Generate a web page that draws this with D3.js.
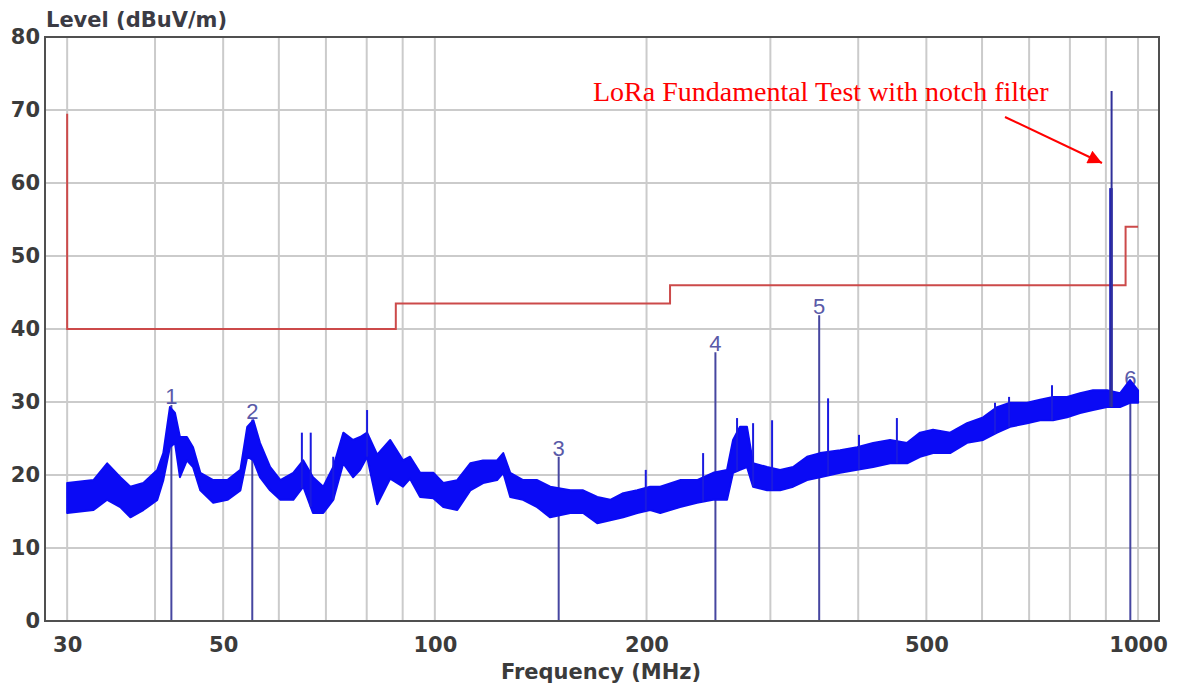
<!DOCTYPE html>
<html>
<head>
<meta charset="utf-8">
<script src="https://cdn.jsdelivr.net/npm/d3@7"></script>
<style>
    body { margin: 0; background: #fff; }
    svg { display: block; }
</style>
</head>
<body>
<div id="chart"></div>
<script>
// scan frequencies (MHz) with the upper / lower edge of the noisy trace (dBuV/m)
var traceFreq = [30, 32.7, 34.2, 35.7, 36.9, 38.5, 40.3, 41.1, 42.0, 42.7, 43.4, 44.4, 45.3, 46.4, 48.4, 50.7,
    52.9, 54.1, 55.2, 56.4, 58.3, 60.3, 62.9, 65.0, 67.1, 69.4, 71.7, 74.1, 76.5, 78.3, 80.1, 82.8, 86.4,
    90.1, 92.2, 95.3, 99.5, 102.8, 107.6, 112.3, 117.1, 122.6, 125.1, 128.0, 133.5, 139.8, 145.9, 155.8,
    162.5, 170.2, 177.6, 185.3, 194.0, 202.4, 209.2, 223.2, 236.0, 248.7, 260.3, 265.5, 271.6, 277.9,
    283.5, 296.8, 309.7, 323.2, 338.3, 353.0, 377.0, 398.6, 420.0, 444.0, 469.4, 489.8, 511.1, 540.4,
    571.3, 602.1, 630.3, 657.7, 695.4, 725.6, 757.0, 792.5, 827.0, 862.9, 903.4, 942.6, 974.0, 1000];
var traceHigh = [18.9, 19.3, 21.6, 19.7, 18.4, 18.9, 20.7, 23.0, 29.3, 28.5, 25.2, 25.2, 23.8, 20.3, 19.3, 19.3,
    20.7, 26.6, 27.5, 24.4, 21.1, 19.3, 20.3, 22.0, 19.7, 18.4, 21.1, 25.8, 24.8, 25.2, 25.8, 22.8, 24.8,
    22.0, 22.5, 20.3, 20.3, 18.9, 19.3, 21.6, 22.0, 22.0, 23.0, 20.3, 19.3, 19.3, 18.4, 17.9,
    17.9, 17.0, 16.6, 17.5, 17.9, 18.4, 18.4, 19.3, 19.3, 20.3, 20.7, 24.8, 26.6, 26.6,
    21.6, 21.1, 20.7, 21.1, 22.5, 23.0, 23.4, 23.8, 24.4, 24.8, 24.4, 25.8, 26.2, 25.8,
    27.1, 27.9, 29.3, 29.9, 29.9, 30.3, 30.7, 30.7, 31.2, 31.6, 31.6, 31.2, 33.0, 31.6];
var traceLow = [14.8, 15.2, 16.6, 15.6, 14.2, 15.2, 16.6, 19.3, 23.8, 24.4, 19.7, 22.0, 21.1, 17.9, 16.2, 16.6,
    17.9, 22.5, 22.0, 19.7, 17.9, 16.6, 16.6, 18.4, 14.8, 14.8, 16.6, 21.6, 19.7, 20.7, 22.5, 16.0, 19.5,
    18.4, 19.5, 17.0, 16.8, 15.6, 15.2, 17.9, 18.9, 19.3, 20.3, 17.0, 16.6, 15.6, 14.2, 14.8,
    14.8, 13.4, 13.8, 14.2, 14.8, 15.2, 14.8, 15.6, 16.2, 16.6, 16.6, 20.3, 20.7, 21.1,
    18.4, 17.9, 17.9, 18.4, 19.3, 19.7, 20.3, 20.7, 21.1, 21.6, 21.6, 22.5, 23.0, 23.0,
    24.4, 24.8, 25.8, 26.6, 27.1, 27.5, 27.5, 27.9, 28.5, 28.9, 29.3, 29.3, 29.9, 29.9];

// narrow spikes sticking out of the trace
var spikeFreq = [64.7, 66.6, 71.7, 80.1, 199.5, 240.7, 269, 283.5, 301.7, 362.4, 401, 454, 626, 655.5, 754.5];
var spikeLevel = [25.8, 25.8, 22.5, 28.9, 20.7, 23.0, 27.8, 27.1, 27.5, 30.5, 25.5, 27.8, 29.9, 30.7, 32.3];

// LoRa fundamental (notch filtered)
var loraFreq = [915, 917];
var loraLevel = [59.3, 72.6];

// FCC class B limit line
var limitFreq = [30, 30, 88, 88, 216, 216, 960, 960, 1000];
var limitLevel = [69.5, 40, 40, 43.5, 43.5, 46, 46, 54, 54];

// peak markers
var markerId = ['1', '2', '3', '4', '5', '6'];
var markerFreq = [42.2, 55.0, 150.0, 250.6, 352.0, 975.0];
var markerLevel = [29.6, 27.6, 22.5, 36.8, 41.9, 32.0];

var xGrid = [30, 40, 50, 60, 70, 80, 90, 100, 200, 300, 400, 500, 600, 700, 800, 900, 1000];
var xLabels = [30, 50, 100, 200, 500, 1000];
var yTicks = [0, 10, 20, 30, 40, 50, 60, 70, 80];

var WIDTH = 1179, HEIGHT = 690;
var LEFT = 45, RIGHT = 1159, TOP = 37, BOTTOM = 621;
var FONT = '"DejaVu Sans", sans-serif';

var svg = d3.select('#chart').append('svg')
    .attr('width', WIDTH)
    .attr('height', HEIGHT);

svg.append('rect').attr('width', WIDTH).attr('height', HEIGHT).attr('fill', '#fff');

var x = d3.scaleLog().domain([27.9, 1071]).range([LEFT, RIGHT]);
var y = d3.scaleLinear().domain([0, 80]).range([BOTTOM, TOP]);

//网格
var grid = svg.append('g').attr('class', 'grid');
grid.selectAll('line.gx')
    .data(xGrid)
    .enter()
    .append('line')
    .attr('x1', d => x(d)).attr('x2', d => x(d))
    .attr('y1', TOP).attr('y2', BOTTOM)
    .attr('stroke', '#cbcbcb').attr('stroke-width', 2);
grid.selectAll('line.gy')
    .data(yTicks.slice(1, -1))
    .enter()
    .append('line')
    .attr('x1', LEFT).attr('x2', RIGHT)
    .attr('y1', d => y(d)).attr('y2', d => y(d))
    .attr('stroke', '#cbcbcb').attr('stroke-width', 2);

// axes, labels only
var xAxis = svg.append('g')
    .attr('transform', 'translate(0,' + BOTTOM + ')')
    .call(d3.axisBottom(x).tickValues(xLabels).tickFormat(d3.format('d')).tickSize(0).tickPadding(16));
var yAxis = svg.append('g')
    .attr('transform', 'translate(' + LEFT + ',0)')
    .call(d3.axisLeft(y).tickValues(yTicks).tickSize(0).tickPadding(5));
[xAxis, yAxis].forEach(function (a) {
    a.select('.domain').remove();
    a.selectAll('text')
        .attr('fill', '#3b3b3b')
        .style('font-family', FONT)
        .style('font-weight', 'bold')
        .style('font-size', '21px');
});

// limit line
var line = d3.line().x(d => x(d[0])).y(d => y(d[1]));
svg.append('path')
    .attr('d', line(d3.zip(limitFreq, limitLevel)))
    .attr('fill', 'none')
    .attr('stroke', '#cc4a4a')
    .attr('stroke-width', 2);

// marker lines from the axis up to the peak
var markers = svg.append('g').attr('class', 'markers');
markers.selectAll('line')
    .data(d3.range(markerId.length))
    .enter()
    .append('line')
    .attr('x1', i => x(markerFreq[i])).attr('x2', i => x(markerFreq[i]))
    .attr('y1', BOTTOM).attr('y2', i => y(markerLevel[i]))
    .attr('stroke', '#4646a0')
    .attr('stroke-width', 2);

// trace band
var band = d3.area()
    .x(d => x(d[0]))
    .y0(d => y(d[2]))
    .y1(d => y(d[1]));
var traceData = d3.zip(traceFreq, traceHigh, traceLow);
svg.append('path')
    .attr('d', band(traceData))
    .attr('fill', '#0a0af5')
    .attr('stroke', '#0a0af5')
    .attr('stroke-width', 2)
    .attr('stroke-linejoin', 'round');

function lowAt(f) {
    var i = d3.bisectLeft(traceFreq, f);
    i = Math.max(1, Math.min(traceFreq.length - 1, i));
    var t = (Math.log(f) - Math.log(traceFreq[i - 1])) / (Math.log(traceFreq[i]) - Math.log(traceFreq[i - 1]));
    return traceLow[i - 1] + t * (traceLow[i] - traceLow[i - 1]);
}

svg.append('g').selectAll('line')
    .data(d3.zip(spikeFreq, spikeLevel))
    .enter()
    .append('line')
    .attr('x1', d => x(d[0])).attr('x2', d => x(d[0]))
    .attr('y1', d => y(lowAt(d[0]))).attr('y2', d => y(d[1]))
    .attr('stroke', '#1a1ae0')
    .attr('stroke-width', 2);

svg.append('g').selectAll('line')
    .data(d3.zip(loraFreq, loraLevel))
    .enter()
    .append('line')
    .attr('x1', d => x(d[0])).attr('x2', d => x(d[0]))
    .attr('y1', d => y(lowAt(d[0]))).attr('y2', d => y(d[1]))
    .attr('stroke', (d, i) => i == 0 ? '#2020b8' : '#30309a')
    .attr('stroke-width', (d, i) => i == 0 ? 3.5 : 2);

// marker numbers
markers.selectAll('text')
    .data(d3.range(markerId.length))
    .enter()
    .append('text')
    .attr('x', i => x(markerFreq[i]))
    .attr('y', i => y(markerLevel[i]) - 1)
    .attr('text-anchor', 'middle')
    .attr('fill', '#5a5aa8')
    .style('font-family', '"Liberation Sans", Arial, sans-serif')
    .style('font-size', '22px')
    .text(i => markerId[i]);

// frame
svg.append('rect')
    .attr('x', LEFT).attr('y', TOP)
    .attr('width', RIGHT - LEFT).attr('height', BOTTOM - TOP)
    .attr('fill', 'none')
    .attr('stroke', '#505050')
    .attr('stroke-width', 2);

// titles
svg.append('text')
    .attr('x', 46).attr('y', 27)
    .attr('fill', '#3b3b44')
    .style('font-family', FONT).style('font-weight', 'bold').style('font-size', '21px')
    .text('Level (dBuV/m)');
svg.append('text')
    .attr('x', 601).attr('y', 679)
    .attr('text-anchor', 'middle')
    .attr('fill', '#3b3b3b')
    .style('font-family', FONT).style('font-weight', 'bold').style('font-size', '21px')
    .text('Frequency (MHz)');

// annotation with arrow
svg.append('defs').append('marker')
    .attr('id', 'arrow')
    .attr('viewBox', '0 0 10 10')
    .attr('refX', 10).attr('refY', 5)
    .attr('markerWidth', 8).attr('markerHeight', 7)
    .attr('markerUnits', 'strokeWidth')
    .attr('orient', 'auto')
    .append('path')
    .attr('d', 'M0,0 L10,5 L0,10 z')
    .attr('fill', '#ff0000');
svg.append('text')
    .attr('x', 593).attr('y', 101)
    .attr('fill', '#ff0000')
    .style('font-family', '"Liberation Serif", "Times New Roman", serif')
    .style('font-size', '28px')
    .text('LoRa Fundamental Test with notch filter');
svg.append('line')
    .attr('x1', 1005).attr('y1', 117)
    .attr('x2', 1102).attr('y2', 163)
    .attr('stroke', '#ff0000')
    .attr('stroke-width', 2)
    .attr('marker-end', 'url(#arrow)');
</script>
</body>
</html>
